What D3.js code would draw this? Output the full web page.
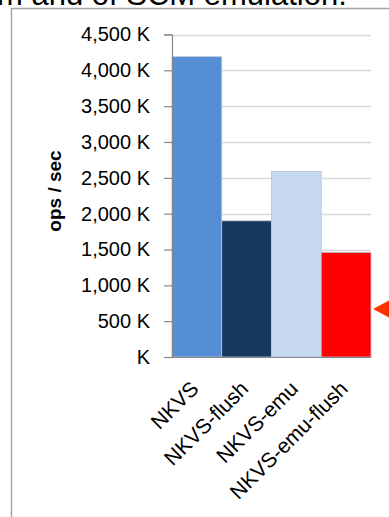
<!DOCTYPE html>
<html>
<head>
<meta charset="utf-8">
<script src="https://cdn.jsdelivr.net/npm/d3@7"></script>
<style>
  body { margin: 0; background: #fff; }
  svg { display: block; font-family: "Liberation Sans", Arial, sans-serif; }
</style>
</head>
<body>
<div id="container"></div>
<script>
var categories = ["NKVS", "NKVS-flush", "NKVS-emu", "NKVS-emu-flush"];
var opsK = [4190, 1900, 2590, 1460];
var barColors = ["#558ed5", "#17375e", "#c6d9f1", "#ff0000"];
var tickValues = [0, 500, 1000, 1500, 2000, 2500, 3000, 3500, 4000, 4500];
var tickLabels = ["K", "500 K", "1,000 K", "1,500 K", "2,000 K", "2,500 K", "3,000 K", "3,500 K", "4,000 K", "4,500 K"];

var width = 389, height = 517;

var svg = d3.select("#container").append("svg")
    .attr("width", width)
    .attr("height", height);

// slide title, cut off at the top of the picture as in the source
svg.append("text")
    .attr("x", -3)
    .attr("y", 5)
    .attr("font-size", 31)
    .attr("fill", "#000")
    .text("m and of SCM emulation.");

// chart frame (only left and top edges visible)
svg.append("path")
    .attr("d", "M11.5,517 V8.5 H389")
    .attr("fill", "none")
    .attr("stroke", "#a6a6a6")
    .attr("stroke-width", 1.5);

var x = d3.scaleBand()
    .domain(categories)
    .range([172, 371])
    .padding(0);

var y = d3.scaleLinear()
    .domain([0, 4500])
    .range([357, 34.5]);

// gridlines
svg.append("g")
    .selectAll("line")
    .data(tickValues.slice(1))
    .enter().append("line")
    .attr("x1", 172).attr("x2", 371)
    .attr("y1", d => Math.round(y(d)) + 0.5)
    .attr("y2", d => Math.round(y(d)) + 0.5)
    .attr("stroke", "#d9d9d9")
    .attr("stroke-width", 1.5);

// bars
svg.selectAll(".bar")
    .data(categories)
    .enter().append("rect")
    .attr("class", "bar")
    .attr("x", d => x(d))
    .attr("y", (d, i) => y(opsK[i]))
    .attr("width", x.bandwidth())
    .attr("height", (d, i) => y(0) - y(opsK[i]))
    .attr("fill", (d, i) => barColors[i])
    .attr("stroke", "#b8c4d6")
    .attr("stroke-width", 0.8);

// y axis
var yAxis = svg.append("g")
    .attr("transform", "translate(172,0)")
    .call(d3.axisLeft(y)
        .tickValues(tickValues)
        .tickFormat((d, i) => tickLabels[i])
        .tickSize(8)
        .tickPadding(14));
yAxis.selectAll("path, line").attr("stroke", "#868686").attr("stroke-width", 1.2);
yAxis.selectAll("text").attr("font-size", 20).attr("fill", "#000")
    .attr("font-family", "Liberation Sans, Arial, sans-serif");

// x axis
var xAxis = svg.append("g")
    .attr("transform", "translate(0,357)")
    .call(d3.axisBottom(x).tickSize(0).tickPadding(0));
xAxis.select(".domain").attr("stroke", "#868686").attr("stroke-width", 1.2);
xAxis.selectAll("text")
    .attr("font-size", 21)
    .attr("fill", "#000")
    .attr("font-family", "Liberation Sans, Arial, sans-serif")
    .attr("text-anchor", "end")
    .attr("dy", 0)
    .attr("transform", "translate(3,33) rotate(-45)");

// y axis title
svg.append("text")
    .attr("transform", "translate(61,191) rotate(-90)")
    .attr("text-anchor", "middle")
    .attr("font-size", 19)
    .attr("font-weight", "bold")
    .text("ops / sec");

// red pointer on the right edge
svg.append("path")
    .attr("d", "M373,309 L390,300 L390,318 Z")
    .attr("fill", "#ff3300");
</script>
</body>
</html>
